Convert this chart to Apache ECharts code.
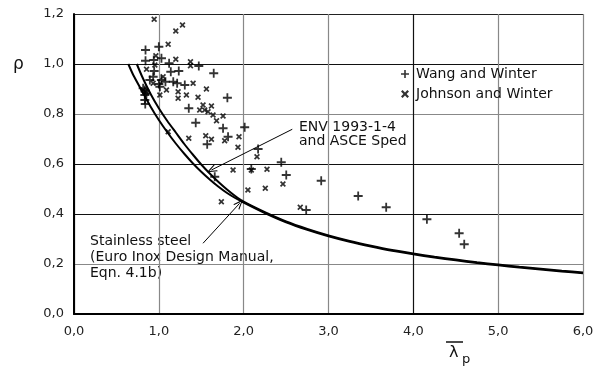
<!DOCTYPE html>
<html>
<head>
<meta charset="utf-8">
<script src="https://cdn.jsdelivr.net/npm/echarts@6/dist/echarts.min.js"></script>
<style>
  html, body { margin: 0; padding: 0; background: #fff; }
  #chart { width: 601px; height: 372px; }
</style>
</head>
<body>
<div id="chart"></div>
<script>
// reduction factor curves [lambda_p, rho]
const euroInoxCurve = [
    [0.64, 1.0], [0.7, 0.955], [0.8, 0.893], [0.9, 0.831], [1.0, 0.776], [1.1, 0.727],
    [1.2, 0.682], [1.3, 0.641], [1.4, 0.603], [1.5, 0.569], [1.6, 0.538], [1.7, 0.51],
    [1.8, 0.485], [1.9, 0.464], [2.0, 0.446], [2.25, 0.404], [2.5, 0.367], [2.75, 0.337],
    [3.0, 0.311], [3.25, 0.289], [3.5, 0.27], [3.75, 0.253], [4.0, 0.239], [4.25, 0.226],
    [4.5, 0.215], [4.75, 0.204], [5.0, 0.195], [5.25, 0.186], [5.5, 0.178], [5.75, 0.17],
    [6.0, 0.163]
];
const envCurve = [
    [0.74, 1.0], [0.8, 0.952], [0.9, 0.882], [1.0, 0.823], [1.1, 0.772], [1.2, 0.726],
    [1.3, 0.68], [1.4, 0.638], [1.5, 0.598], [1.6, 0.562], [1.7, 0.529], [1.8, 0.499],
    [1.9, 0.472], [2.0, 0.449], [2.25, 0.407], [2.5, 0.37], [2.75, 0.34], [3.0, 0.314],
    [3.25, 0.292], [3.5, 0.273], [3.75, 0.256], [4.0, 0.242], [4.25, 0.229], [4.5, 0.218],
    [4.75, 0.207], [5.0, 0.198], [5.25, 0.189], [5.5, 0.181], [5.75, 0.173], [6.0, 0.166]
];

// test results
const wangWinter = [
    [0.843, 1.056], [1.0, 1.069], [1.031, 1.023], [0.843, 1.013], [0.94, 1.016], [1.121, 1.003],
    [1.471, 0.992], [0.945, 0.972], [1.141, 0.969], [1.235, 0.972], [1.647, 0.963], [0.933, 0.949],
    [0.894, 0.936], [1.03, 0.936], [1.078, 0.929], [1.17, 0.929], [1.216, 0.923], [1.306, 0.916],
    [1.012, 0.909], [0.815, 0.903], [0.835, 0.896], [0.855, 0.883], [0.835, 0.876], [1.0, 0.92],
    [0.835, 0.856], [0.84, 0.84], [1.353, 0.823], [1.808, 0.865], [1.435, 0.765], [1.57, 0.679],
    [1.757, 0.743], [1.816, 0.709], [2.012, 0.747], [2.17, 0.66], [2.443, 0.607], [2.09, 0.58],
    [2.502, 0.556], [2.914, 0.533], [1.659, 0.549], [2.737, 0.416], [3.35, 0.472], [3.68, 0.427],
    [4.16, 0.379], [4.54, 0.323], [4.6, 0.279]
];
const johnsonWinter = [
    [0.945, 1.179], [1.279, 1.156], [1.2, 1.132], [1.11, 1.079], [0.965, 1.033], [1.2, 1.019],
    [1.373, 1.009], [1.373, 0.993], [0.855, 0.979], [0.953, 0.996], [1.05, 0.949], [0.933, 0.923],
    [1.09, 0.896], [1.227, 0.889], [1.325, 0.876], [0.855, 0.886], [1.012, 0.876], [0.815, 0.896],
    [1.227, 0.863], [1.404, 0.923], [1.561, 0.9], [1.462, 0.867], [1.521, 0.836], [1.62, 0.832],
    [1.482, 0.816], [1.541, 0.816], [1.58, 0.809], [1.639, 0.796], [1.757, 0.792], [1.68, 0.773],
    [1.11, 0.729], [1.353, 0.703], [1.553, 0.713], [1.62, 0.699], [1.776, 0.693], [1.945, 0.709],
    [1.933, 0.667], [2.157, 0.629], [1.875, 0.576], [2.09, 0.576], [2.275, 0.579], [2.463, 0.52],
    [2.255, 0.503], [2.05, 0.496], [1.737, 0.449], [2.667, 0.427]
];

// annotation arrows [from, to]
const envArrow = [[2.573, 0.739], [1.62, 0.576]];
const inoxArrow = [[1.521, 0.283], [1.953, 0.443]];

const plusPath = "path://M4,0H6V4H10V6H6V10H4V6H0V4H4Z";
const crossPath = "path://M0,2L2,0L5,3L8,0L10,2L7,5L10,8L8,10L5,7L2,10L0,8L3,5Z";
const chevron = "path://M5,0L10,10L8.6,10L5,2.8L1.4,10L0,10Z";

const FONT = "'DejaVu Sans', Verdana, sans-serif";
const fmt = (v) => v.toFixed(1).replace(".", ",");

const chart = echarts.init(document.getElementById("chart"), null, { renderer: "canvas" });

const arrowLine = (pair) => [
    { coord: pair[0], symbol: "none" },
    { coord: pair[1], symbol: chevron, symbolSize: [8, 10] }
];

const curveSeries = (name, data) => ({
    name: name,
    type: "line",
    data: data,
    smooth: 0.2,
    symbol: "none",
    lineStyle: { color: "#000", width: 2 },
    silent: true
});

const option = {
    animation: false,
    textStyle: { fontFamily: FONT },
    grid: { left: 74, right: 18, top: 14, bottom: 58, containLabel: false },
    legend: {
        left: 396,
        top: 62,
        orient: "vertical",
        itemWidth: 8,
        itemHeight: 8,
        itemGap: 6,
        textStyle: { fontFamily: FONT, fontSize: 14, color: "#111", padding: [0, 0, 0, 2] },
        data: [
            { name: "Wang and Winter", icon: plusPath },
            { name: "Johnson and Winter", icon: crossPath }
        ]
    },
    xAxis: {
        type: "value",
        min: 0,
        max: 6,
        interval: 1,
        axisLine: { show: true, lineStyle: { color: "#000", width: 2 } },
        axisTick: { show: false },
        axisLabel: { margin: 11, fontSize: 13, color: "#222", fontFamily: FONT, formatter: fmt },
        splitLine: {
            show: true,
            lineStyle: { color: ["#000", "#888", "#888", "#888", "#111", "#888", "#888"], width: 1.2 }
        }
    },
    yAxis: {
        type: "value",
        min: 0,
        max: 1.2,
        interval: 0.2,
        axisLine: { show: true, lineStyle: { color: "#000", width: 2 } },
        axisTick: { show: false },
        axisLabel: { margin: 10, fontSize: 13, color: "#222", fontFamily: FONT, formatter: fmt },
        splitLine: {
            show: true,
            lineStyle: { color: ["#000", "#888", "#111", "#111", "#888", "#111", "#222"], width: 1.2 }
        }
    },
    series: [
        Object.assign(curveSeries("ENV 1993-1-4", envCurve), {
            markLine: {
                silent: true,
                animation: false,
                label: { show: false },
                lineStyle: { color: "#000", width: 1, type: "solid" },
                data: [arrowLine(envArrow), arrowLine(inoxArrow)]
            }
        }),
        curveSeries("Euro Inox", euroInoxCurve),
        {
            name: "Wang and Winter",
            type: "scatter",
            data: wangWinter,
            symbol: plusPath,
            symbolSize: 9,
            itemStyle: { color: "#000" }
        },
        {
            name: "Johnson and Winter",
            type: "scatter",
            data: johnsonWinter,
            symbol: crossPath,
            symbolSize: 6,
            itemStyle: { color: "#000" }
        }
    ],
    graphic: [
        {
            type: "text", left: 13, top: 56,
            style: { text: "ρ", fontSize: 17, fontFamily: FONT, fill: "#111" }
        },
        {
            type: "text", left: 299, top: 120,
            style: { text: "ENV 1993-1-4\nand ASCE Sped", fontSize: 14, lineHeight: 14.5, fontFamily: FONT, fill: "#111" }
        },
        {
            type: "text", left: 90, top: 233,
            style: { text: "Stainless steel\n(Euro Inox Design Manual,\nEqn. 4.1b)", fontSize: 14, lineHeight: 16, fontFamily: FONT, fill: "#111" }
        },
        {
            type: "text", left: 449, top: 345,
            style: { text: "λ", fontSize: 16, fontFamily: FONT, fill: "#111" }
        },
        {
            type: "text", left: 462, top: 353,
            style: { text: "p", fontSize: 13, fontFamily: FONT, fill: "#111" }
        },
        {
            type: "line",
            shape: { x1: 446, y1: 342, x2: 463, y2: 342 },
            style: { stroke: "#111", lineWidth: 1.5 }
        }
    ]
};

chart.setOption(option);
</script>
</body>
</html>
